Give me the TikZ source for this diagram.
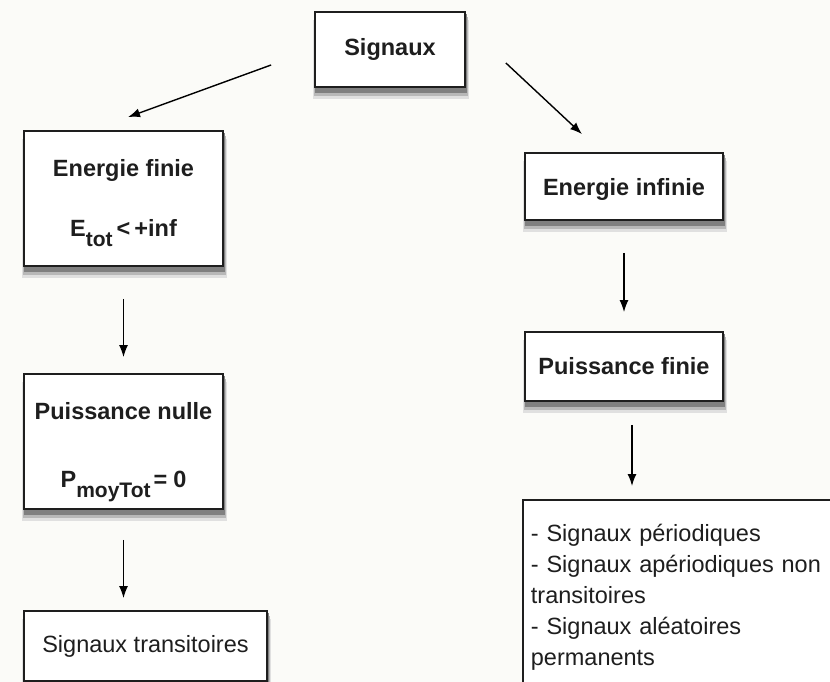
\documentclass[tikz,border=0pt]{standalone}
\usepackage{fontspec}
\setmainfont{Liberation Sans}
\usetikzlibrary{shapes, arrows.meta, calc, backgrounds}
\definecolor{bgc}{RGB}{251,251,248}
\definecolor{ink}{RGB}{30,30,30}
\tikzstyle{block} = [draw=ink, line width=1.8pt, rectangle, fill=white, text=ink, align=center, font=\bfseries\fontsize{23.5}{28}\selectfont]
\tikzstyle{plain} = [draw=ink, line width=1.8pt, rectangle, fill=white, text=ink, font=\fontsize{23.5}{31}\selectfont]
\newcommand\lowsub[1]{\raisebox{-10pt}{\fontsize{21}{21}\selectfont #1}}

\begin{document}
\begin{tikzpicture}[x=1pt, y=-1pt, >={Latex[length=12pt,width=9pt]}, line width=1.4pt]
\clip (0,0) rectangle (830,682);

\node [block, minimum width=150pt, minimum height=75pt] (sig) at (390,49.5) {Signaux};
\node [block, minimum width=199pt, minimum height=135pt] (efin) at (123.5,198.5) {\rule{0pt}{27pt}Energie finie\\[32pt]E\lowsub{tot}\kern4pt<\kern4pt+inf};
\node [block, minimum width=198pt, minimum height=67pt] (einf) at (624,186.5) {\rule{0pt}{22pt}Energie infinie};
\node [block, minimum width=199pt, minimum height=135pt] (pnul) at (123.5,441.5) {\rule{0pt}{39pt}Puissance nulle\\[40pt]P\lowsub{moyTot}\kern3pt=\kern6pt0};
\node [block, minimum width=198pt, minimum height=69pt] (pfin) at (624,366.5) {Puissance finie};
\node [plain, minimum width=243pt, minimum height=70pt] (ptrans) at (145.5,646) {Signaux transitoires};
\node [plain, anchor=north west, text width=320pt, inner xsep=8pt, inner ysep=24pt, align=left] (lst) at (522,499) {- Signaux périodiques\\- Signaux apériodiques non\\transitoires\\- Signaux aléatoires\\permanents\rule[-40pt]{0pt}{40pt}};

% shadows under the boxes
\begin{scope}[on background layer]
\fill [bgc] (0,0) rectangle (830,682);
\foreach \n in {sig,efin,einf,pnul,pfin,ptrans}{
  \fill [black!12] ($(\n.north west)+(-1,9)$) rectangle ($(\n.south east)+(3,11)$);
  \fill [black!28] ($(\n.north west)+(0,6)$) rectangle ($(\n.south east)+(2,8)$);
  \fill [black!50] ($(\n.north west)+(0.5,3)$) rectangle ($(\n.south east)+(1.5,5)$);
}
\end{scope}

% branches
\draw [->] ($(sig.west)+(-43,15.5)$) -- ($(efin.north)+(4.5,-13)$);
\draw [->] ($(sig.east)+(40,13.5)$) -- ($(einf.north)+(-42,-18)$);
% left column
\draw [->, shorten <=32pt, shorten >=16pt] (efin) -- (pnul);
\draw [->, shorten <=30pt, shorten >=12pt] (pnul.south) -- (pnul.south |- ptrans.north);
% right column
\draw [->, shorten <=32pt, shorten >=19pt] (einf) -- (pfin);
\draw [->, shorten <=23pt, shorten >=13pt] ($(pfin.south)+(8,0)$) -- ($(pfin.south |- lst.north)+(8,0)$);
\end{tikzpicture}
\end{document}
